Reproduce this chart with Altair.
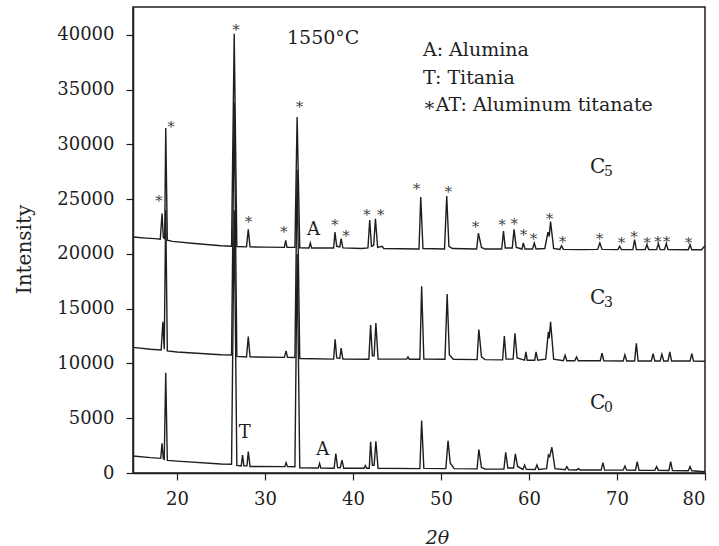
import altair as alt
import pandas as pd

# ---- XRD traces (2θ, intensity) ----
c5_x = [15.0, 16.5, 17.5, 18.1, 18.3, 18.45, 18.6, 18.72, 18.9, 19.5, 22.0, 25.0, 26.2, 26.5, 26.8,
        27.9, 28.1, 28.3, 30.0, 32.2, 32.35, 32.5, 33.4, 33.65, 33.95, 35.0, 35.15, 35.3, 37.8, 37.95,
        38.15, 38.5, 38.65, 38.85, 41.0, 41.7, 41.9, 42.1, 42.35, 42.55, 42.8, 43.3, 43.5, 47.5, 47.7,
        47.95, 50.4, 50.65, 50.9, 51.3, 54.05, 54.25, 54.6, 55.0, 56.9, 57.1, 57.3, 58.1, 58.3, 58.55,
        59.2, 59.35, 59.55, 60.4, 60.6, 60.8, 61.8, 62.15, 62.3, 62.45, 62.8, 63.5, 63.7, 63.9, 66.0,
        67.8, 68.05, 68.3, 70.1, 70.3, 70.5, 71.8, 72.0, 72.2, 73.2, 73.4, 73.6, 74.5, 74.7, 74.9,
        75.4, 75.6, 75.8, 78.1, 78.3, 78.5, 79.6, 80.0]
c5_y = [21550, 21450, 21400, 21350, 23700, 21500, 21400, 31500, 21250, 21150, 20950, 20750, 20700, 40100, 20680,
        20650, 22250, 20650, 20620, 20600, 21250, 20600, 20600, 32500, 20560, 20550, 21000, 20550, 20550, 22000,
        20700, 20650, 21400, 20550, 20500, 20550, 23100, 20700, 20800, 23200, 20600, 20700, 20500, 20450, 25200,
        20500, 20450, 25300, 20700, 20500, 20450, 21900, 20600, 20450, 20450, 22100, 20550, 20550, 22250, 20600,
        20450, 21000, 20450, 20450, 21000, 20450, 20500, 22000, 21600, 22950, 20500, 20420, 20750, 20420, 20400,
        20420, 21000, 20420, 20400, 20700, 20400, 20400, 21300, 20400, 20400, 20850, 20400, 20400, 20950, 20400,
        20400, 20950, 20400, 20380, 20850, 20380, 20380, 20750]

c3_x = [15.0, 17.0, 18.2, 18.4, 18.55, 18.72, 18.9, 20.0, 25.0, 26.2, 26.5, 26.8, 27.9, 28.1, 28.3,
        32.2, 32.4, 32.55, 33.4, 33.65, 33.95, 37.8, 37.97, 38.15, 38.5, 38.65, 38.85, 41.8, 42.0, 42.2,
        42.4, 42.6, 42.85, 46.1, 46.25, 46.4, 47.6, 47.8, 48.05, 50.45, 50.7, 50.95, 51.4, 54.1, 54.3,
        54.6, 55.0, 57.0, 57.2, 57.4, 58.2, 58.4, 58.65, 59.5, 59.65, 59.8, 60.65, 60.8, 61.0, 61.9,
        62.2, 62.3, 62.45, 62.8, 63.9, 64.1, 64.3, 65.2, 65.4, 65.6, 68.1, 68.3, 68.5, 70.7, 70.9,
        71.1, 72.0, 72.2, 72.4, 73.9, 74.1, 74.3, 74.9, 75.1, 75.3, 75.8, 76.0, 76.2, 78.3, 78.5,
        78.7, 80.0]
c3_y = [11470, 11300, 11230, 13800, 11300, 24000, 11150, 11050, 10800, 10770, 33800, 10650, 10600, 12450, 10600,
        10560, 11150, 10560, 10550, 27700, 10450, 10400, 12200, 10500, 10450, 11400, 10400, 10380, 13500, 10700,
        10700, 13700, 10400, 10400, 10600, 10380, 10380, 17050, 10400, 10380, 16350, 10800, 10380, 10350, 13100,
        10600, 10350, 10330, 12500, 10400, 10400, 12750, 10500, 10300, 11050, 10300, 10300, 11050, 10300, 10400,
        12900, 12300, 13800, 10400, 10250, 10750, 10250, 10250, 10600, 10250, 10250, 10950, 10250, 10230, 10800,
        10230, 10230, 11850, 10230, 10230, 10900, 10230, 10230, 10850, 10230, 10230, 11050, 10230, 10220, 10900,
        10220, 10200]

c0_x = [15.0, 17.0, 18.15, 18.3, 18.45, 18.55, 18.72, 18.9, 20.0, 25.0, 26.2, 26.5, 26.8, 27.3, 27.45,
        27.6, 27.95, 28.1, 28.3, 32.25, 32.4, 32.55, 33.4, 33.65, 33.95, 36.05, 36.2, 36.35, 37.85, 38.05,
        38.25, 38.55, 38.75, 38.95, 41.25, 41.4, 41.55, 41.85, 42.0, 42.2, 42.4, 42.6, 42.85, 47.6, 47.8,
        48.05, 50.55, 50.8, 51.05, 51.5, 54.1, 54.3, 54.6, 55.0, 57.15, 57.35, 57.6, 58.25, 58.45, 58.7,
        59.3, 59.5, 59.7, 60.7, 60.9, 61.1, 62.0, 62.2, 62.35, 62.6, 62.95, 64.1, 64.3, 64.5, 65.4,
        65.6, 65.8, 68.2, 68.4, 68.6, 70.7, 70.9, 71.1, 72.1, 72.3, 72.5, 74.3, 74.5, 74.7, 75.9,
        76.1, 76.3, 78.1, 78.3, 78.5, 80.0]
c0_y = [1550, 1400, 1340, 2700, 1300, 1250, 9150, 1150, 1080, 820, 800, 24000, 700, 650, 1640,
        650, 650, 1950, 600, 580, 940, 580, 570, 20000, 480, 450, 880, 450, 430, 1780,
        500, 480, 1180, 430, 430, 670, 430, 430, 2850, 700, 700, 2900, 430, 400, 4780,
        420, 400, 2950, 900, 400, 380, 2150, 500, 370, 350, 1880, 450, 450, 1750, 600,
        330, 730, 330, 320, 730, 320, 400, 1650, 1500, 2350, 400, 300, 580, 290, 280,
        400, 280, 270, 940, 270, 260, 640, 260, 250, 1030, 250, 240, 580, 240, 230,
        1030, 230, 200, 580, 200, 120]

# ---- peak markers (asterisks over C5) ----
star_x = [17.9, 19.3, 26.7, 28.1, 32.1, 33.9, 37.9, 39.2, 41.55, 43.1, 47.2, 50.8, 53.9, 56.9, 58.3,
          59.35, 60.5, 62.3, 63.8, 68.0, 70.5, 71.9, 73.4, 74.6, 75.6, 78.1]
star_y = [25230, 31930, 40810, 23250, 22400, 33810, 23010, 22030, 23920, 23920, 26290, 25990, 22850, 23010, 23100,
          22120, 21730, 23550, 21430, 21730, 21340, 21880, 21340, 21430, 21430, 21340]

letter_text = ["A", "T", "A"]
letter_x = [35.5, 27.7, 36.55]
letter_y = [22190, 3620, 2100]

sample_names = ["C", "C", "C"]
sample_subs = ["5", "3", "0"]
sample_x = [66.93, 66.93, 66.93]
sample_y = [27940, 15980, 6390]

legend_lines = ["A: Alumina", "T: Titania", "\u2217AT: Aluminum titanate"]
legend_x = [47.95, 47.95, 47.95]
legend_y = [38620, 36070, 33600]

temp_text = ["1550\u00b0C"]
temp_x = [32.5]
temp_y = [39760]

x_ticks = [20, 30, 40, 50, 60, 70, 80]
y_ticks = [0, 5000, 10000, 15000, 20000, 25000, 30000, 35000, 40000]

FONT = "DejaVu Serif"
INK = "#1e1e1e"

rows = []
for name, xs_, ys_ in [("C5", c5_x, c5_y), ("C3", c3_x, c3_y), ("C0", c0_x, c0_y)]:
    for i, (a, b) in enumerate(zip(xs_, ys_)):
        rows.append({"sample": name, "order": i, "theta": a, "intensity": b})
lines_df = pd.DataFrame(rows)

xs = alt.Scale(domain=[15, 80], nice=False, zero=False)
ys = alt.Scale(domain=[0, 42550], nice=False)

x_axis = alt.Axis(values=x_ticks, title="2\u03b8", grid=False, tickSize=7, tickColor=INK,
                  domainColor=INK, domainWidth=1.5, tickWidth=1.2, labelFont=FONT, labelFontSize=18,
                  labelColor=INK, labelPadding=10, titleFont=FONT, titleFontSize=19,
                  titleFontStyle="italic", titleFontWeight="normal", titleColor=INK,
                  titleX=304, titleY=64, titleBaseline="middle", titleAnchor="start", titleAlign="center")
y_axis = alt.Axis(values=y_ticks, title="Intensity", format="d", grid=False, tickSize=7, tickColor=INK,
                  domainColor=INK, domainWidth=1.5, tickWidth=1.2, labelFont=FONT, labelFontSize=18,
                  labelColor=INK, labelPadding=12, titleFont=FONT, titleFontSize=20,
                  titleFontWeight="normal", titleColor=INK, titleX=-109, titleY=242,
                  titleAngle=270, titleAlign="center", titleBaseline="middle")

base = alt.Chart(lines_df)
lines = base.mark_line(color=INK, strokeWidth=1.4, interpolate="linear").encode(
    x=alt.X("theta:Q", scale=xs, axis=x_axis),
    y=alt.Y("intensity:Q", scale=ys, axis=y_axis),
    detail="sample:N",
    order="order:Q",
)

def text_layer(df, color=INK, **style):
    return alt.Chart(df).mark_text(font=FONT, color=color, **style).encode(
        x=alt.X("x:Q", scale=xs), y=alt.Y("y:Q", scale=ys), text="t:N")

stars = text_layer(pd.DataFrame({"x": star_x, "y": star_y, "t": ["\u2217"] * len(star_x)}),
                   color="#444444", fontSize=15, align="center", baseline="middle", dy=1)
letters = text_layer(pd.DataFrame({"x": letter_x, "y": letter_y, "t": letter_text}),
                     fontSize=18, align="center", baseline="middle")
names = text_layer(pd.DataFrame({"x": sample_x, "y": sample_y, "t": sample_names}),
                   fontSize=20, align="left", baseline="middle")
subs = text_layer(pd.DataFrame({"x": sample_x, "y": sample_y, "t": sample_subs}),
                  fontSize=14, align="left", baseline="middle", dx=14, dy=5)
legend = text_layer(pd.DataFrame({"x": legend_x, "y": legend_y, "t": legend_lines}),
                    fontSize=19, align="left", baseline="middle")
temp = text_layer(pd.DataFrame({"x": temp_x, "y": temp_y, "t": temp_text}),
                  fontSize=19, align="left", baseline="middle")

chart = alt.layer(lines, stars, letters, names, subs, legend, temp).properties(
    width=572, height=466,
    autosize=alt.AutoSizeParams(type="none"),
    padding={"left": 133, "top": 7, "right": 14, "bottom": 73},
    background="white",
).configure_view(stroke=INK, strokeWidth=1.5)

chart.save("out.html", embed_options={"renderer": "svg", "actions": False})
